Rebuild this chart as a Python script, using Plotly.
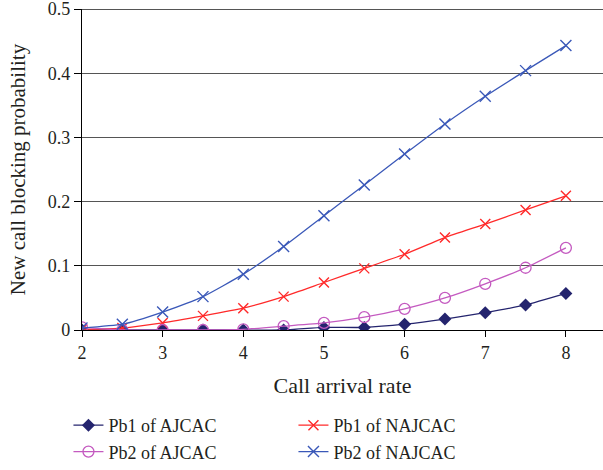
import plotly.graph_objects as go

x_rate = [2, 2.5, 3, 3.5, 4, 4.5, 5, 5.5, 6, 6.5, 7, 7.5, 8]
pb1_ajcac = [0.0, 0.0, 0.0, 0.0, 0.0, 0.0, 0.004, 0.004, 0.009, 0.017, 0.027, 0.039, 0.057]
pb2_ajcac = [0.004, 0.0, 0.0, 0.0, 0.001, 0.006, 0.011, 0.02, 0.033, 0.05, 0.072, 0.097, 0.128]
pb1_najcac = [0.001, 0.003, 0.011, 0.022, 0.034, 0.052, 0.074, 0.096, 0.118, 0.144, 0.165, 0.187, 0.209]
pb2_najcac = [0.003, 0.009, 0.028, 0.052, 0.087, 0.13, 0.178, 0.226, 0.274, 0.321, 0.364, 0.404, 0.443]
y_ticks = [0, 0.1, 0.2, 0.3, 0.4, 0.5]
y_tick_labels = ["0", "0.1", "0.2", "0.3", "0.4", "0.5"]
x_ticks = [2, 3, 4, 5, 6, 7, 8]

FONT = "Liberation Serif"

fig = go.Figure()
fig.add_trace(go.Scatter(x=x_rate, y=pb1_ajcac, name="Pb1 of AJCAC", mode="lines+markers",
                         line=dict(color="#24246e", width=1.3, shape="spline", smoothing=0.5),
                         marker=dict(symbol="diamond", size=10, color="#24246e")))
fig.add_trace(go.Scatter(x=x_rate, y=pb1_najcac, name="Pb1 of NAJCAC", mode="lines+markers",
                         line=dict(color="#ff2a2a", width=1.3, shape="spline", smoothing=0.5),
                         marker=dict(symbol="x-thin", size=10, color="#ff2a2a",
                                     line=dict(color="#ff2a2a", width=1.4))))
fig.add_trace(go.Scatter(x=x_rate, y=pb2_ajcac, name="Pb2 of AJCAC", mode="lines+markers",
                         line=dict(color="#c45ac0", width=1.3, shape="spline", smoothing=0.5),
                         marker=dict(symbol="circle-open", size=11, color="#c45ac0",
                                     line=dict(color="#c45ac0", width=1.3))))
fig.add_trace(go.Scatter(x=x_rate, y=pb2_najcac, name="Pb2 of NAJCAC", mode="lines+markers",
                         line=dict(color="#3a58b8", width=1.3, shape="spline", smoothing=0.5),
                         marker=dict(symbol="x-thin", size=11, color="#3a58b8",
                                     line=dict(color="#3a58b8", width=1.4))))

# top gridline (at the highest y tick, which sits on the plot edge)
fig.add_hline(y=y_ticks[-1], line_color="#555555", line_width=2.2, layer="below")

fig.update_layout(
    width=603, height=470,
    margin=dict(l=82, r=0, t=9, b=139),
    plot_bgcolor="white", paper_bgcolor="white",
    font=dict(family=FONT, size=16, color="#231f20"),
    showlegend=True,
    legend=dict(orientation="h", x=-0.026, xanchor="left", y=-0.238, yanchor="top",
                entrywidth=180, entrywidthmode="pixels", font=dict(size=18, family=FONT),
                itemwidth=30, traceorder="normal"),
    xaxis=dict(range=[2, 8.46], tickvals=x_ticks, showgrid=False,
               showline=True, linecolor="black", linewidth=1.3, ticks="outside",
               ticklen=6, tickcolor="black", zeroline=False, automargin=False,
               ticklabeloverflow="allow",
               title=dict(text="Call arrival rate", font=dict(size=22), standoff=15),
               tickfont=dict(size=18)),
    yaxis=dict(range=[0, 0.5], tickvals=y_ticks, ticktext=y_tick_labels,
               showgrid=True, gridcolor="#555555", gridwidth=1.2,
               showline=True, linecolor="black", linewidth=1.3, ticks="outside",
               ticklen=7, tickcolor="black", zeroline=False, automargin=False,
               ticklabeloverflow="allow",
               title=dict(text="New call blocking probability", font=dict(size=21), standoff=16),
               tickfont=dict(size=18)),
)

fig.write_html("out.html", config={"displayModeBar": False},
               post_script="document.body.style.margin='0';")
